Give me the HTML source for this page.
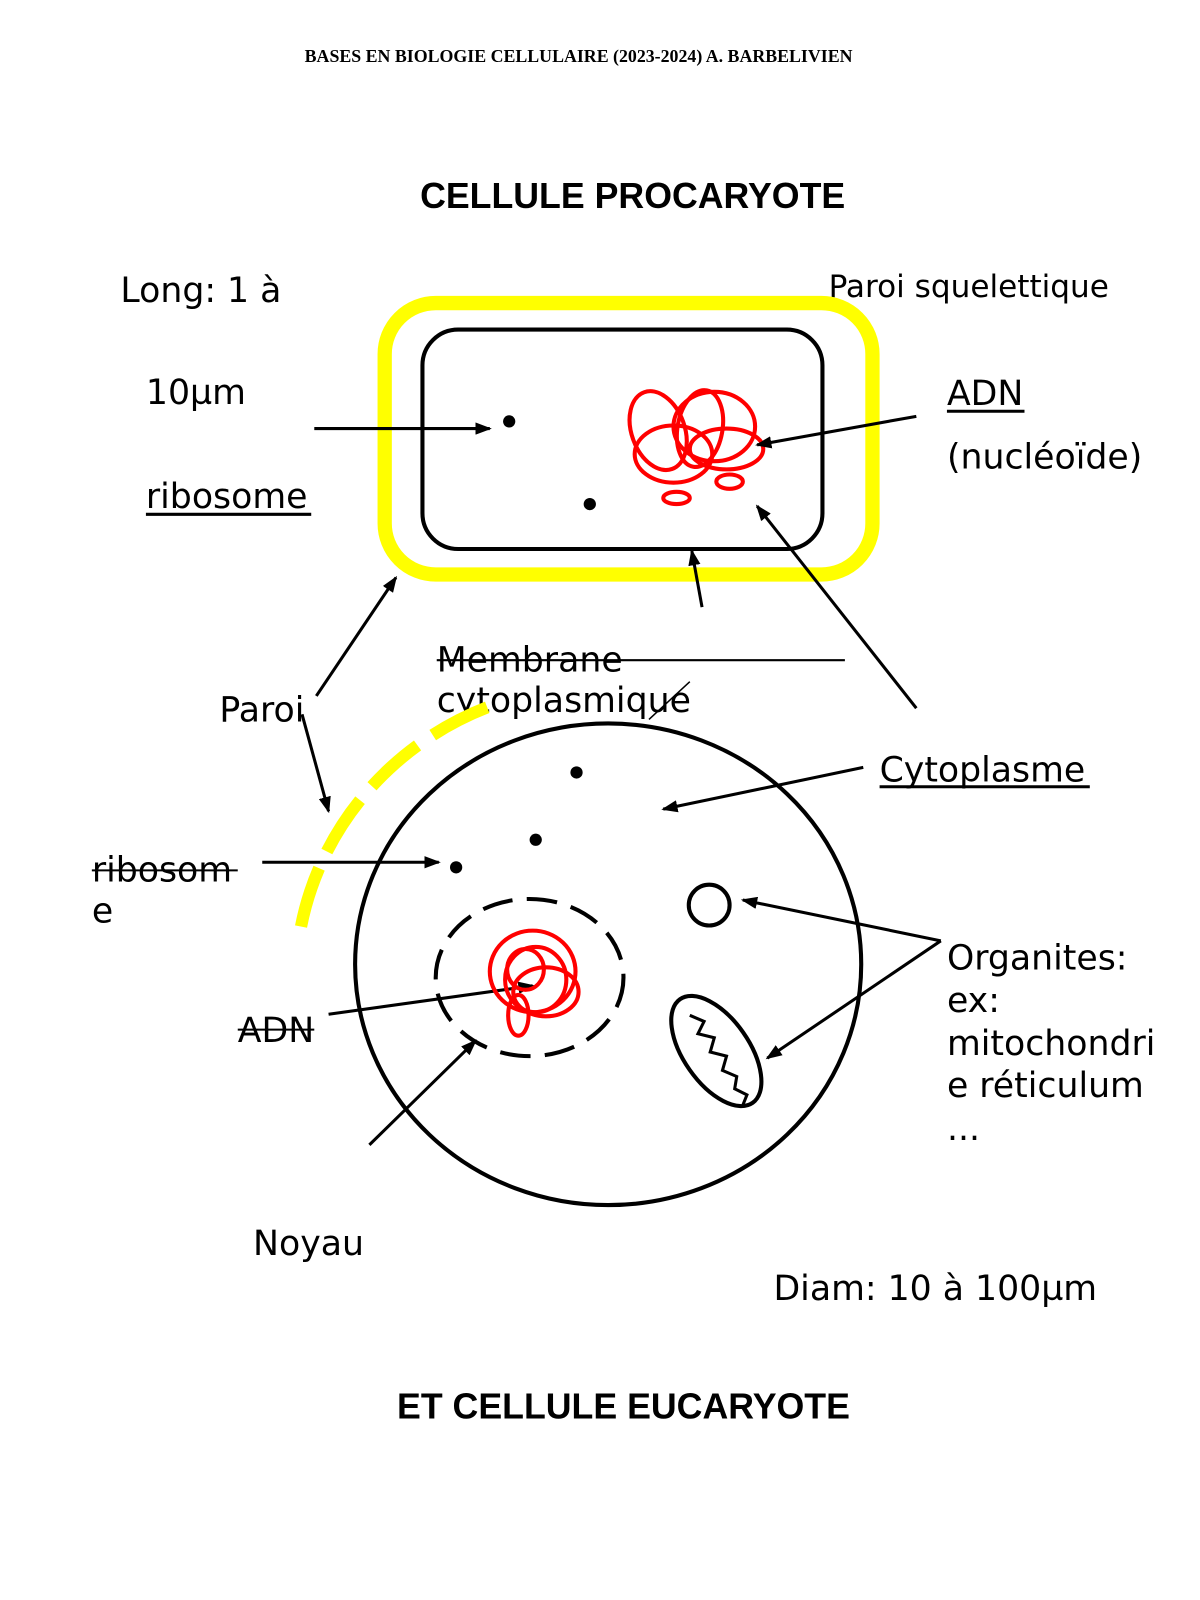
<!DOCTYPE html>
<html><head><meta charset="utf-8"><style>
html,body{margin:0;padding:0;background:#fff;}
svg{display:block;}
.t{font-family:"DejaVu Sans","Liberation Sans",sans-serif;font-size:34px;fill:#000;}
.b{font-family:"Liberation Sans",Arial,sans-serif;font-weight:bold;font-size:35px;fill:#000;}
</style></head><body>
<svg width="1200" height="1600" viewBox="0 0 1176 1568" xmlns="http://www.w3.org/2000/svg">
<defs>
<marker id="ah" markerWidth="16" markerHeight="12" refX="14" refY="6" orient="auto" markerUnits="userSpaceOnUse"><path d="M0,0 L16,6 L0,12 z" fill="#000"/></marker></defs>
<text x="567" y="61" text-anchor="middle" font-family="Liberation Serif,serif" font-weight="bold" font-size="17.5">BASES EN BIOLOGIE CELLULAIRE (2023-2024) A. BARBELIVIEN</text>
<text x="620" y="204" text-anchor="middle" class="b">CELLULE PROCARYOTE</text>
<text x="118" y="296" class="t">Long: 1 à</text>
<text x="143" y="396" class="t">10µm</text>
<text x="143" y="498" class="t">ribosome</text><line x1="143" y1="504" x2="305" y2="504" stroke="#000" stroke-width="3"/>
<text x="812" y="291" class="t" style="font-size:30.5px">Paroi squelettique</text>
<text x="928" y="397" class="t">ADN</text><line x1="928" y1="403" x2="1004" y2="403" stroke="#000" stroke-width="3"/>
<text x="928" y="459" class="t">(nucléoïde)</text>
<rect x="377" y="297" width="478" height="266" rx="50" fill="none" stroke="#ffff00" stroke-width="14"/>
<rect x="414" y="323" width="392" height="215" rx="35" fill="none" stroke="#000" stroke-width="4"/>
<circle cx="499" cy="413" r="6"/><circle cx="578" cy="494" r="6"/>
<g fill="none" stroke="#f00" stroke-width="4">
<ellipse cx="645" cy="422" rx="26" ry="40" transform="rotate(-20 645 422)"/>
<ellipse cx="700" cy="418" rx="40" ry="34"/>
<ellipse cx="686" cy="420" rx="22" ry="38" transform="rotate(10 686 420)"/>
<ellipse cx="660" cy="445" rx="38" ry="28"/>
<ellipse cx="712" cy="440" rx="36" ry="20"/>
<ellipse cx="663" cy="488" rx="13" ry="6"/>
<ellipse cx="715" cy="472" rx="13" ry="7"/>
</g>
<g stroke="#000" stroke-width="3" fill="none" marker-end="url(#ah)">
<line x1="308" y1="420" x2="480" y2="420"/>
<line x1="898" y1="408" x2="742" y2="436"/>
<line x1="898" y1="694" x2="742" y2="496"/>
<line x1="688" y1="595" x2="678" y2="540"/>
<line x1="310" y1="682" x2="388" y2="566"/>
<line x1="296" y1="700" x2="322" y2="795"/>
<line x1="846" y1="752" x2="650" y2="793"/>
<line x1="257" y1="845" x2="430" y2="845"/>
<line x1="922" y1="922" x2="728" y2="882"/>
<line x1="922" y1="922" x2="752" y2="1037"/>
<line x1="322" y1="994" x2="522" y2="966"/>
<line x1="362" y1="1122" x2="466" y2="1020"/>
</g>
<line x1="428" y1="647" x2="828" y2="647" stroke="#000" stroke-width="2"/>
<text x="428" y="658" class="t">Membrane</text>
<text x="428" y="698" class="t">cytoplasmique</text>
<line x1="676" y1="668" x2="636" y2="705" stroke="#000" stroke-width="1.5"/>
<text x="215" y="707" class="t">Paroi</text>
<path d="M295,908 A300,290 0 0 1 478,693" fill="none" stroke="#ffff00" stroke-width="12" stroke-dasharray="60,18"/>
<ellipse cx="596" cy="945" rx="248" ry="236" fill="none" stroke="#000" stroke-width="4"/>
<circle cx="565" cy="757" r="6"/><circle cx="525" cy="823" r="6"/><circle cx="447" cy="850" r="6"/>
<text x="862" y="766" class="t">Cytoplasme</text><line x1="862" y1="771" x2="1068" y2="771" stroke="#000" stroke-width="3"/>
<text x="90" y="864" class="t">ribosom</text><line x1="90" y1="853" x2="233" y2="853" stroke="#000" stroke-width="2"/>
<text x="90" y="904" class="t">e</text>
<circle cx="695" cy="887" r="20" fill="none" stroke="#000" stroke-width="4"/>
<ellipse cx="702" cy="1030" rx="32" ry="62" transform="rotate(-35 702 1030)" fill="none" stroke="#000" stroke-width="4"/>
<path d="M676,995 l14,6 -6,12 16,4 -4,14 16,4 -4,14 14,6 -2,12 12,6 -4,10" fill="none" stroke="#000" stroke-width="3"/>
<ellipse cx="519" cy="958" rx="92" ry="77" fill="none" stroke="#000" stroke-width="4" stroke-dasharray="30,14"/>
<g fill="none" stroke="#f00" stroke-width="4">
<ellipse cx="522" cy="952" rx="42" ry="40"/>
<ellipse cx="525" cy="960" rx="30" ry="32"/>
<ellipse cx="515" cy="950" rx="18" ry="20"/>
<ellipse cx="535" cy="972" rx="32" ry="24"/>
<ellipse cx="508" cy="995" rx="10" ry="20"/>
</g>
<text x="233" y="1021" class="t">ADN</text><line x1="233" y1="1009" x2="308" y2="1009" stroke="#000" stroke-width="2"/>
<text x="928" y="950" class="t">Organites:</text>
<text x="928" y="992" class="t">ex:</text>
<text x="928" y="1034" class="t">mitochondri</text>
<text x="928" y="1075" class="t">e réticulum</text>
<text x="928" y="1117" class="t">...</text>
<text x="248" y="1230" class="t">Noyau</text>
<text x="758" y="1274" class="t">Diam: 10 à 100µm</text>
<text x="611" y="1390" text-anchor="middle" class="b">ET CELLULE EUCARYOTE</text>
</svg>
</body></html>
